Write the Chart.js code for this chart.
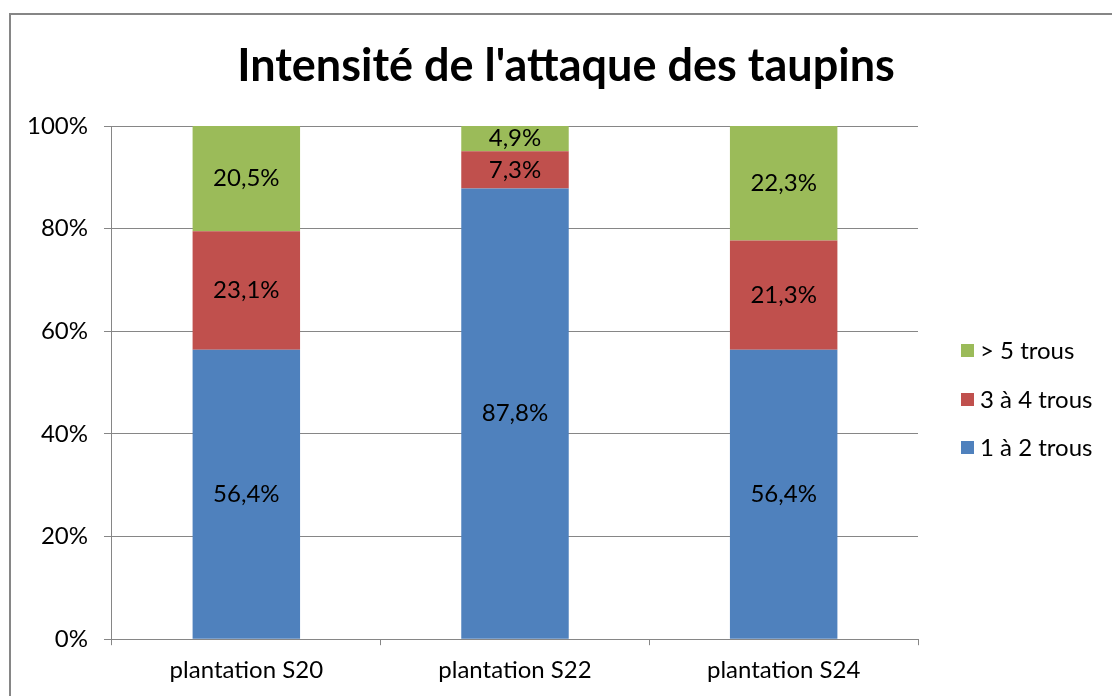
<!DOCTYPE html>
<html>
<head>
<meta charset="utf-8">
<script src="https://cdn.jsdelivr.net/npm/chart.js@4/dist/chart.umd.min.js"></script>
<style>
  html, body { margin: 0; padding: 0; background: #fff; }
  #wrap { width: 1112px; height: 696px; position: relative; }
</style>
</head>
<body>
<div id="wrap"><canvas id="chart"></canvas></div>
<script>
const categories = ['plantation S20', 'plantation S22', 'plantation S24'];
const trous12 = [56.4, 87.8, 56.4];
const trous34 = [23.1, 7.3, 21.3];
const trous5 = [20.5, 4.9, 22.3];
const yTicks = [0, 20, 40, 60, 80, 100];

const FONT = 'Lato, "Open Sans", sans-serif';

// frame, title, value labels and legend drawn on the canvas
const decorPlugin = {
  id: 'decor',
  afterDraw(chart) {
    const ctx = chart.ctx;
    ctx.save();
    // outer frame
    ctx.strokeStyle = '#868686';
    ctx.lineWidth = 2;
    ctx.strokeRect(10, 14, 1200, 800);

    // title
    ctx.fillStyle = '#000';
    ctx.font = 'bold 45px ' + FONT;
    ctx.textAlign = 'center';
    ctx.textBaseline = 'middle';
    ctx.fillText("Intensité de l'attaque des taupins", 566, 66);

    // value labels
    ctx.font = '24px ' + FONT;
    chart.data.datasets.forEach((ds, i) => {
      chart.getDatasetMeta(i).data.forEach((bar, j) => {
        const txt = ds.data[j].toFixed(1).replace('.', ',') + '%';
        ctx.fillText(txt, bar.x, (bar.y + bar.base) / 2);
      });
    });

    // legend (top to bottom reversed)
    ctx.textAlign = 'left';
    ctx.font = '24px ' + FONT;
    const rows = [351, 400, 448];
    const order = [2, 1, 0];
    order.forEach((di, k) => {
      const ds = chart.data.datasets[di];
      ctx.fillStyle = ds.backgroundColor;
      ctx.fillRect(961, rows[k] - 7, 13, 13);
      ctx.fillStyle = '#000';
      ctx.fillText(ds.label, 980, rows[k]);
    });
    ctx.restore();
  }
};

new Chart(document.getElementById('chart'), {
  type: 'bar',
  data: {
    labels: categories,
    datasets: [
      { label: '1 à 2 trous', data: trous12, backgroundColor: '#4F81BD' },
      { label: '3 à 4 trous', data: trous34, backgroundColor: '#C0504D' },
      { label: '> 5 trous', data: trous5, backgroundColor: '#9BBB59' }
    ]
  },
  options: {
    responsive: true,
    maintainAspectRatio: false,
    animation: false,
    layout: { padding: { left: 11, top: 126, right: 194, bottom: 0 } },
    plugins: {
      legend: { display: false },
      title: { display: false },
      tooltip: { enabled: false }
    },
    datasets: { bar: { barPercentage: 1, categoryPercentage: 0.4 } },
    scales: {
      x: {
        stacked: true,
        grid: { drawOnChartArea: false, drawTicks: true, tickLength: 6, color: '#868686' },
        border: { color: '#868686', width: 1 },
        ticks: { color: '#000', font: { family: FONT, size: 24 }, padding: 11 }
      },
      y: {
        stacked: true,
        min: 0,
        max: 100,
        afterBuildTicks(axis) { axis.ticks = yTicks.map(v => ({ value: v })); },
        grid: { color: '#868686', tickLength: 8 },
        border: { color: '#868686', width: 1 },
        ticks: {
          color: '#000',
          font: { family: FONT, size: 24 },
          padding: 16,
          callback: v => v + '%'
        }
      }
    }
  },
  plugins: [decorPlugin]
});
</script>
</body>
</html>
